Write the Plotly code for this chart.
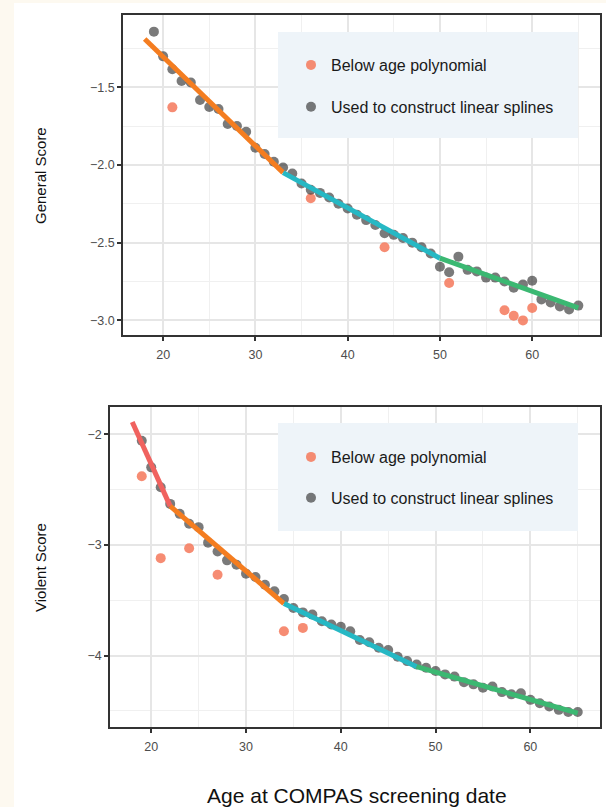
import plotly.graph_objects as go

W, H = 606, 807

# ---------------- data ----------------
ages = list(range(19, 66))

general_used = [-1.143, -1.302, -1.385, -1.46, -1.47, -1.583, -1.628, -1.64, -1.737, -1.75,
                -1.787, -1.89, -1.93, -1.98, -2.017, -2.055, -2.12, -2.16, -2.18, -2.21,
                -2.25, -2.28, -2.32, -2.355, -2.387, -2.44, -2.45, -2.47, -2.50, -2.53,
                -2.57, -2.655, -2.69, -2.59, -2.675, -2.685, -2.725, -2.725, -2.75, -2.79,
                -2.77, -2.745, -2.865, -2.885, -2.91, -2.93, -2.905]
general_below_age = [21, 36, 44, 51, 57, 58, 59, 60]
general_below = [-1.63, -2.215, -2.53, -2.76, -2.935, -2.97, -3.0, -2.92]
general_knot_age = [18, 33, 50, 65]
general_knot_val = [-1.19, -2.05, -2.60, -2.92]

violent_used = [-2.06, -2.30, -2.48, -2.63, -2.72, -2.81, -2.84, -2.98, -3.06, -3.14,
                -3.18, -3.26, -3.29, -3.36, -3.42, -3.49, -3.57, -3.61, -3.63, -3.69,
                -3.72, -3.74, -3.78, -3.86, -3.88, -3.93, -3.95, -4.01, -4.05, -4.08,
                -4.11, -4.14, -4.17, -4.19, -4.24, -4.26, -4.29, -4.28, -4.33, -4.35,
                -4.34, -4.40, -4.43, -4.46, -4.49, -4.51, -4.51]
violent_below_age = [19, 21, 24, 27, 34, 36]
violent_below = [-2.38, -3.12, -3.03, -3.27, -3.78, -3.75]
violent_knot_age = [18, 22, 34, 48, 65]
violent_knot_val = [-1.89, -2.65, -3.53, -4.10, -4.52]

general_seg_colors = ["#F47D20", "#26B8C4", "#3BB872"]
violent_seg_colors = ["#F0625F", "#F47D20", "#26B8C4", "#3BB872"]

legend_below = "Below age polynomial"
legend_used = "Used to construct linear splines"

# ---------------- styles ----------------
FONT = "Liberation Sans, Arial, Helvetica, sans-serif"
GREY_PT = "rgba(40,40,40,0.62)"
ORANGE_PT = "rgba(244,120,90,0.85)"

def px(x):
    return x / W

def py(y):
    return 1 - y / H

fig = go.Figure()

def add_panel(xa, ya, legend, used, below_age, below, knot_age, knot_val, colors):
    fig.add_trace(go.Scatter(x=below_age, y=below, mode="markers", name=legend_below,
                             marker=dict(color=ORANGE_PT, size=10), xaxis=xa, yaxis=ya,
                             legend=legend, legendgroup=legend + "a", showlegend=True))
    fig.add_trace(go.Scatter(x=ages, y=used, mode="markers", name=legend_used,
                             marker=dict(color=GREY_PT, size=10), xaxis=xa, yaxis=ya,
                             legend=legend, legendgroup=legend + "b", showlegend=True))
    for i, c in enumerate(colors):
        fig.add_trace(go.Scatter(x=knot_age[i:i + 2], y=knot_val[i:i + 2], mode="lines",
                                 line=dict(color=c, width=5), xaxis=xa, yaxis=ya,
                                 showlegend=False, hoverinfo="skip"))

add_panel("x", "y", "legend", general_used, general_below_age, general_below,
          general_knot_age, general_knot_val, general_seg_colors)
add_panel("x2", "y2", "legend2", violent_used, violent_below_age, violent_below,
          violent_knot_age, violent_knot_val, violent_seg_colors)

axis_common = dict(
    showline=True, mirror=True, linecolor="#333333", linewidth=1.5,
    ticks="outside", ticklen=4, tickwidth=1.5, tickcolor="#333333",
    showgrid=True, gridcolor="#E6E6E6", gridwidth=1.5, zeroline=False,
    tickfont=dict(family=FONT, size=12.5, color="#4D4D4D"),
)

xr = [15.65, 67.35]
xcommon = dict(axis_common, range=xr, tickmode="array", tickvals=[20, 30, 40, 50, 60],
               ticklabelstandoff=3,
               minor=dict(tickmode="array", tickvals=[15, 25, 35, 45, 55, 65], showgrid=True,
                          gridcolor="#F0F0F0", gridwidth=1, ticks=""))

leg_font = dict(family=FONT, size=16, color="#1A1A1A")

fig.update_layout(
    width=W, height=H,
    margin=dict(l=0, r=0, t=0, b=0),
    paper_bgcolor="#FDF9F0",
    plot_bgcolor="white",
    showlegend=True,
    xaxis=dict(xcommon, domain=[px(123), px(600)], anchor="y"),
    yaxis=dict(axis_common, domain=[py(335), py(15)], anchor="x", range=[-3.094, -1.036],
               tickmode="array", tickvals=[-3.0, -2.5, -2.0, -1.5],
               ticktext=["\u22123.0", "\u22122.5", "\u22122.0", "\u22121.5"],
               minor=dict(tickmode="array", tickvals=[-2.75, -2.25, -1.75, -1.25], showgrid=True,
                          gridcolor="#F0F0F0", gridwidth=1, ticks="")),
    xaxis2=dict(xcommon, domain=[px(110), px(600)], anchor="y2"),
    yaxis2=dict(axis_common, domain=[py(727), py(407)], anchor="x2", range=[-4.645, -1.755],
                tickmode="array", tickvals=[-4, -3, -2], ticktext=["\u22124", "\u22123", "\u22122"],
                minor=dict(tickmode="array", tickvals=[-4.5, -3.5, -2.5], showgrid=True,
                           gridcolor="#F0F0F0", gridwidth=1, ticks="")),
    legend=dict(x=px(291), y=py(48), xanchor="left", yanchor="top", bgcolor="rgba(0,0,0,0)",
                traceorder="grouped", tracegroupgap=18, font=leg_font),
    legend2=dict(x=px(291), y=py(440), xanchor="left", yanchor="top", bgcolor="rgba(0,0,0,0)",
                 traceorder="grouped", tracegroupgap=17, font=leg_font),
    shapes=[
        dict(type="rect", xref="paper", yref="paper", x0=px(14), x1=1, y0=0, y1=py(3),
             fillcolor="white", line=dict(width=0), layer="below"),
        dict(type="rect", xref="paper", yref="paper", x0=px(278), x1=px(578), y0=py(138), y1=py(32),
             fillcolor="#EEF4F9", line=dict(width=0), layer="above"),
        dict(type="rect", xref="paper", yref="paper", x0=px(278), x1=px(578), y0=py(531), y1=py(423),
             fillcolor="#EEF4F9", line=dict(width=0), layer="above"),
    ],
    annotations=[
        dict(text="General Score", x=px(40), y=py(175), xref="paper", yref="paper",
             xanchor="center", yanchor="middle",
             showarrow=False, textangle=-90, font=dict(family=FONT, size=15, color="#111111")),
        dict(text="Violent Score", x=px(40), y=py(567), xref="paper", yref="paper",
             xanchor="center", yanchor="middle",
             showarrow=False, textangle=-90, font=dict(family=FONT, size=15, color="#111111")),
        dict(text="Age at COMPAS screening date", x=px(357), y=py(795), xref="paper", yref="paper",
             xanchor="center", yanchor="middle",
             showarrow=False, font=dict(family=FONT, size=21, color="#111111")),
    ],
)

fig.write_html("out.html")
